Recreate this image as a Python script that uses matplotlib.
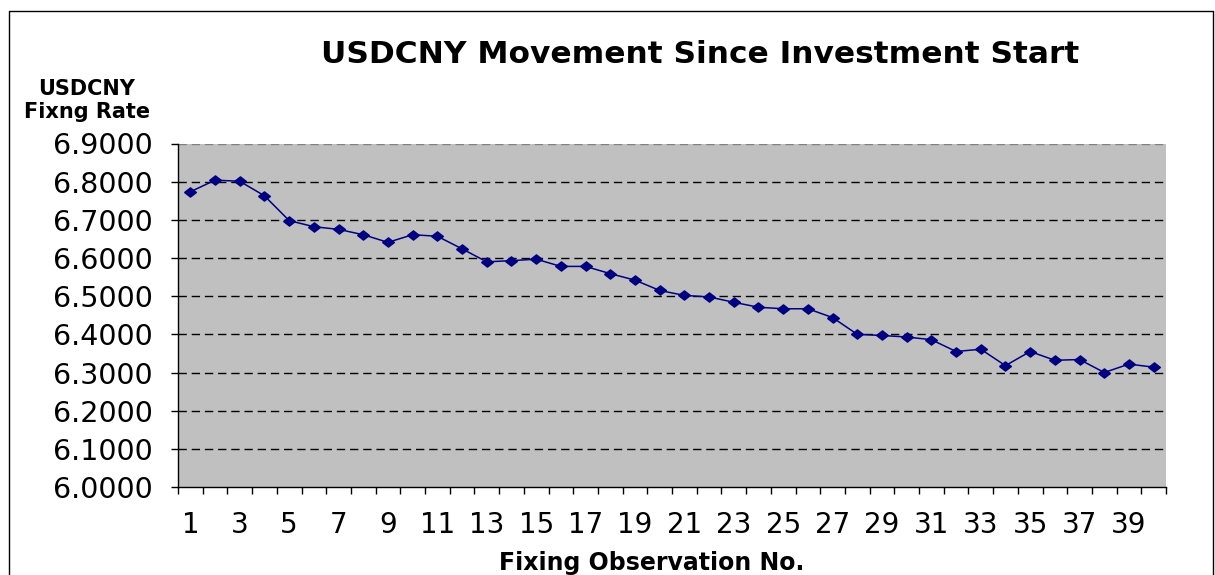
import matplotlib.pyplot as plt
import numpy as np
from matplotlib.lines import Line2D

plt.rcParams['font.family'] = ['DejaVu Sans']

# fixing observation number and USDCNY fixing rate
obs_no = np.arange(1, 41)
fix_rate = [6.7735, 6.804, 6.801, 6.763, 6.698, 6.682, 6.675, 6.661, 6.641, 6.661,
            6.657, 6.624, 6.590, 6.593, 6.597, 6.578, 6.578, 6.559, 6.542, 6.515,
            6.502, 6.498, 6.484, 6.471, 6.467, 6.467, 6.444, 6.400, 6.397, 6.393,
            6.386, 6.355, 6.361, 6.318, 6.355, 6.332, 6.334, 6.300, 6.322, 6.314]
y_ticks = [6.0, 6.1, 6.2, 6.3, 6.4, 6.5, 6.6, 6.7, 6.8, 6.9]
x_labels = [str(i) for i in range(1, 41, 2)]

fig = plt.figure(figsize=(12.15, 5.75), dpi=100)
ax = fig.add_axes([178 / 1215, 1 - 487 / 575, 988 / 1215, (487 - 143.5) / 575])
ax.set_facecolor('#c0c0c0')

# dashed gridlines like excel
for v in y_ticks[1:]:
    col = '#808080' if v == 6.9 else 'black'
    ax.axhline(v, color=col, lw=1, ls=(0, (6, 3.5)), zorder=1)

# slightly wide diamond marker
diamond = [(-1.15, 0), (0, 0.9), (1.15, 0), (0, -0.9), (-1.15, 0)]
ax.plot(obs_no, fix_rate, color='#000080', lw=1.1, marker=diamond, ms=8.5, zorder=3)

ax.set_xlim(0.5, 40.5)
ax.set_ylim(6.0, 6.9)
ax.set_yticks(y_ticks)
ax.set_yticklabels(['%.4f' % v for v in y_ticks], fontsize=20.5)
ax.set_xticks(np.arange(0.5, 41, 1))
ax.set_xticklabels([])
ax.set_xticks(np.arange(1, 41, 2), minor=True)
ax.set_xticklabels(x_labels, minor=True, fontsize=20)
ax.tick_params(axis='x', which='major', length=5, width=1, direction='out')
ax.tick_params(axis='x', which='minor', length=0, pad=17)
ax.tick_params(axis='y', length=5, width=1, pad=13)

for s in ['top', 'right']:
    ax.spines[s].set_visible(False)
for s in ['left', 'bottom']:
    ax.spines[s].set_linewidth(1)
    ax.spines[s].set_zorder(4)

fig.text(700 / 1215, 1 - 63 / 575, 'USDCNY Movement Since Investment Start',
         ha='center', va='baseline', fontsize=22.5, fontweight='bold')
fig.text(87 / 1215, 1 - 95 / 575, 'USDCNY', ha='center', va='baseline',
         fontsize=15, fontweight='bold')
fig.text(87 / 1215, 1 - 118 / 575, 'Fixng Rate', ha='center', va='baseline',
         fontsize=15, fontweight='bold')
fig.text(652 / 1215, 1 - 570 / 575, 'Fixing Observation No.', ha='center', va='baseline',
         fontsize=17, fontweight='bold')

# outer chart frame (bottom edge cut off in the original)
fx = [8.5 / 1215, 8.5 / 1215, 1212.5 / 1215, 1212.5 / 1215]
fy = [0, 1 - 10.5 / 575, 1 - 10.5 / 575, 0]
fig.add_artist(Line2D(fx, fy, transform=fig.transFigure, color='black', lw=1))

fig.savefig('out.png', dpi=100)
